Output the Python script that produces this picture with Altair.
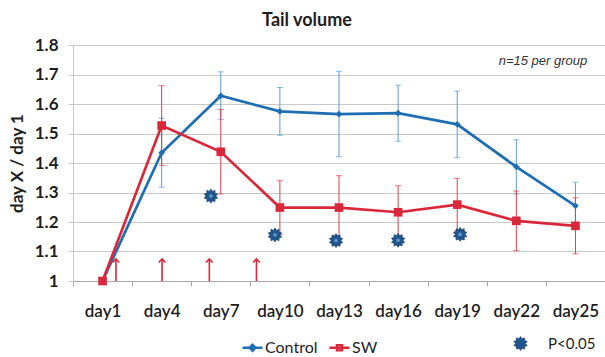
import math
import altair as alt
import pandas as pd

# Measurement days (categories on the x axis)
days = ["day1", "day4", "day7", "day10", "day13", "day16", "day19", "day22", "day25"]

# Tail volume relative to day 1: means and half-widths of the error bars
control_mean = [1.0, 1.435, 1.628, 1.575, 1.566, 1.569, 1.531, 1.387, 1.255]
control_err = [0.0, 0.117, 0.081, 0.081, 0.145, 0.095, 0.113, 0.092, 0.080]
sw_mean = [1.0, 1.527, 1.438, 1.249, 1.249, 1.233, 1.259, 1.204, 1.187]
sw_err = [0.0, 0.135, 0.143, 0.091, 0.108, 0.090, 0.089, 0.101, 0.095]

# Significance markers (day number, value)
sig_day = [6.5, 9.75, 12.85, 16.0, 19.15]
sig_value = [1.288, 1.156, 1.137, 1.138, 1.158]
sig_label = ["P<0.05"] * len(sig_day)

# Treatment arrows (day number, base and tip value)
arrow_day = [1.68, 4.02, 6.42, 8.81]
arrow_base = [1.0] * len(arrow_day)
arrow_tip = [1.075] * len(arrow_day)

note_text = ["n=15 per group"]
note_day = [25.6]
note_value = [1.747]

y_ticks = [1.0, 1.1, 1.2, 1.3, 1.4, 1.5, 1.6, 1.7, 1.8]

BLUE = "#1F6EB4"
RED = "#D9283A"
BLUE_ERR = "#5A9BD3"
RED_ERR = "#DD3E4C"
STAR = "#1F5690"
GRID = "#C9C9C9"
TEXT = "#1E1E1E"
FONT = "Lato"

rows = []
for name, means, errs in (("Control", control_mean, control_err), ("SW", sw_mean, sw_err)):
    for d, m, e in zip(days, means, errs):
        rows.append({"day": d, "series": name, "mean": m, "lo": m - e, "hi": m + e, "err": e})
df = pd.DataFrame(rows)

sig_df = pd.DataFrame({"day": sig_day, "value": sig_value, "label": sig_label})
arrow_df = pd.DataFrame({"day": arrow_day, "base": arrow_base, "tip": arrow_tip})
note_df = pd.DataFrame({"day": note_day, "value": note_value, "text": note_text})

# 10-point starburst symbol
pts = []
for i in range(20):
    r = 1.0 if i % 2 == 0 else 0.7
    a = math.pi * i / 10 - math.pi / 2
    pts.append(f"{r * math.cos(a):.3f},{r * math.sin(a):.3f}")
star_path = "M" + "L".join(pts) + "Z"

# Legend glyphs: a line segment with the series marker on it
control_glyph = "M-1,0L1,0M0,-0.3L0.3,0L0,0.3L-0.3,0Z"
sw_glyph = "M-1,0L1,0M-0.26,-0.26L0.26,-0.26L0.26,0.26L-0.26,0.26Z"

series_domain = ["Control", "SW"]
series_legend = alt.Legend(
    title=None, orient="none", direction="horizontal", legendX=168, legendY=291,
    labelFont=FONT, labelFontSize=16, labelColor=TEXT, labelOffset=1,
    symbolSize=400, symbolStrokeWidth=2.4, symbolOpacity=1, columnPadding=6, padding=0,
)
color_scale = alt.Scale(domain=series_domain, range=[BLUE, RED])

y_scale = alt.Scale(domain=[1.0, 1.8], nice=False, zero=False)
y_axis = alt.Axis(
    values=y_ticks,
    labelExpr="datum.value == 1 ? '1' : format(datum.value, '.1f')",
    labelOverlap=False,
    labelFont=FONT, labelFontSize=17, labelFontWeight="bold", labelColor=TEXT,
    labelPadding=10,
    tickSize=5, tickColor=GRID, domainColor=GRID, gridColor=GRID,
    title="day X / day 1", titleFont=FONT, titleFontSize=17, titleFontWeight="bold",
    titleColor=TEXT, titleX=-56, titleY=118, titleAngle=-90,
    titleAlign="center", titleBaseline="middle",
)


def yq(field):
    return alt.Y(field, scale=y_scale, axis=y_axis)


x_band = alt.X(
    "day:N",
    sort=days,
    scale=alt.Scale(type="band", domain=days, paddingInner=0, paddingOuter=0),
    axis=alt.Axis(
        title=None, labelAngle=0, tickBand="extent", tickSize=5, tickColor="#A8A8A8",
        domainColor="#A8A8A8", grid=False, labelFont=FONT, labelFontSize=17,
        labelFontWeight=600, labelColor=TEXT, labelPadding=17,
    ),
)

base = alt.Chart(df)
err_layers = []
for name, col in (("Control", BLUE_ERR), ("SW", RED_ERR)):
    sub = base.transform_filter(f"datum.series == '{name}' && datum.err > 0")
    err_layers.append(sub.mark_rule(strokeWidth=1, color=col).encode(x=x_band, y=yq("lo:Q"), y2="hi:Q"))
    err_layers.append(
        sub.mark_tick(thickness=1, size=6, color=col, orient="horizontal").encode(x=x_band, y=yq("lo:Q"))
    )
    err_layers.append(
        sub.mark_tick(thickness=1, size=6, color=col, orient="horizontal").encode(x=x_band, y=yq("hi:Q"))
    )

lines = base.mark_line(strokeWidth=2.7).encode(
    x=x_band,
    y=yq("mean:Q"),
    color=alt.Color("series:N", scale=color_scale, legend=series_legend),
)

# invisible marks that only feed the legend glyphs
legend_feed = base.mark_point(filled=False, opacity=0, strokeWidth=2.4).encode(
    x=x_band,
    y=yq("mean:Q"),
    color=alt.Color("series:N", scale=color_scale, legend=series_legend),
    shape=alt.Shape("series:N", scale=alt.Scale(domain=series_domain, range=[control_glyph, sw_glyph]),
                    legend=series_legend),
)

control_pts = base.transform_filter("datum.series == 'Control'").mark_point(
    shape="diamond", filled=True, size=45, color=BLUE, opacity=1
).encode(x=x_band, y=yq("mean:Q"))

sw_pts = base.transform_filter("datum.series == 'SW'").mark_point(
    shape="square", filled=True, size=75, color=RED, opacity=1
).encode(x=x_band, y=yq("mean:Q"))

band_part = alt.layer(*err_layers, lines, control_pts, sw_pts, legend_feed)

# Continuous day axis for annotations placed between categories
x_days = alt.Scale(domain=[-0.5, 26.5], nice=False, zero=False)
x_q = alt.X("day:Q", scale=x_days, axis=None)

shafts = alt.Chart(arrow_df).mark_rule(color=RED, strokeWidth=1.6).encode(
    x=x_q, y=yq("base:Q"), y2="tip:Q"
)
heads = alt.Chart(arrow_df).mark_point(
    shape="M-0.7,0.75L0,0L0.7,0.75", filled=False, color=RED, strokeWidth=1.6, size=90, opacity=1
).encode(x=x_q, y=yq("tip:Q"))

stars = alt.Chart(sig_df).mark_point(
    shape=star_path, filled=True, size=190, stroke="#173F6B", strokeWidth=0.8, opacity=1
).encode(
    x=x_q,
    y=yq("value:Q"),
    fill=alt.Fill(
        "label:N",
        scale=alt.Scale(domain=["P<0.05"], range=[STAR]),
        legend=alt.Legend(
            title=None, orient="none", legendX=440, legendY=291, labelFont=FONT,
            labelFontSize=15, labelColor=TEXT, labelOffset=20, symbolSize=190,
            symbolType=star_path, symbolStrokeColor="#173F6B", symbolStrokeWidth=0.8,
            padding=0,
        ),
    ),
)
star_core = alt.Chart(sig_df).mark_point(
    shape="circle", filled=True, size=14, color="#5F93C9", opacity=1
).encode(x=x_q, y=yq("value:Q"))

note = alt.Chart(note_df).mark_text(
    font="Liberation Sans", fontSize=13, fontStyle="italic", align="right", baseline="middle", color="#333333"
).encode(x=x_q, y=yq("value:Q"), text="text:N")

day_part = alt.layer(shafts, heads, stars, star_core, note)

chart = (
    alt.layer(band_part, day_part)
    .resolve_scale(x="independent")
    .properties(
        width=532,
        height=236,
        padding={"left": 73, "top": 45, "right": 0, "bottom": 76},
        autosize=alt.AutoSizeParams(type="none"),
        title=alt.TitleParams(
            "Tail volume", font=FONT, fontSize=18, fontWeight="bold", color=TEXT,
            anchor="middle", dx=-32, offset=6,
        ),
    )
    .configure_view(stroke=None)
    .configure(background="white")
)

chart.save("out.html", embed_options={"renderer": "svg", "actions": False})
